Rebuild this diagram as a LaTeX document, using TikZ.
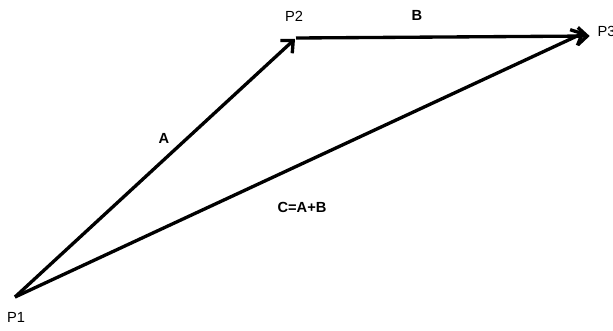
\documentclass[tikz,border=0pt]{standalone}
\usepackage{fontspec}
\setmainfont{Liberation Sans}
\usetikzlibrary{arrows.meta}

\begin{document}
\begin{tikzpicture}[
  x=0.75pt, y=-0.75pt,
  vec/.style={line width=2.5pt, -{Straight Barb[length=7pt, width=13pt, line width=2.5pt]}, shorten >=1pt},
  pt/.style={font=\fontsize{11}{13}\selectfont, inner sep=1pt},
  lbl/.style={font=\fontsize{11}{13}\selectfont\bfseries, inner sep=1pt}
]
\useasboundingbox (0,0) rectangle (613,330);
\coordinate (p1) at (15,297);
\coordinate (p2) at (296,38);
\coordinate (p3) at (591,36);
\node[pt] (n1) at (16,317) {P1};
\node[pt] (n2) at (294,16) {P2};
\node[pt, anchor=west] (n3) at (596,31) {P3};
\node[lbl] (a) at (164,138) {A};
\node[lbl] (b) at (417,15) {B};
\node[lbl] (c) at (302,207) {C=A+B};
\draw[vec] (p1) -- (p2);
\draw[vec] (p2) -- (p3);
\draw[vec] (p1) -- ([xshift=-4pt, yshift=3pt]p3);
\end{tikzpicture}
\end{document}
